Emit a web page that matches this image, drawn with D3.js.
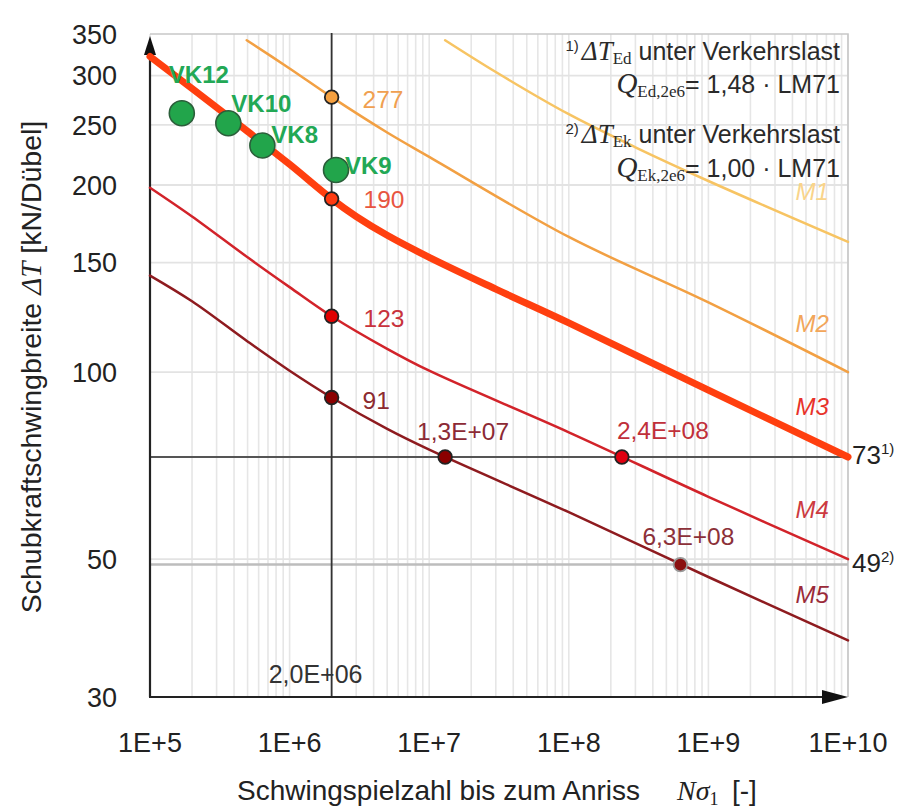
<!DOCTYPE html>
<html><head><meta charset="utf-8">
<script src="https://cdn.jsdelivr.net/npm/d3@7"></script>
<style>body{margin:0;background:#fff}svg{display:block}</style>
</head><body><svg id="c" width="901" height="810"></svg>
<script>
// ---------- data ----------
const xTicks=[1e5,1e6,1e7,1e8,1e9,1e10];
const xTickLabels=["1E+5","1E+6","1E+7","1E+8","1E+9","1E+10"];
const yTicks=[30,50,100,150,200,250,300,350];
const yGrid=[50,100,150,200,250,300];
const curveNames=["M1","M2","M3","M4","M5"];
const curveM1=[[1.3e7,342],[3e7,304],[1e8,260],[3e8,230],[1e9,203],[1e10,162]];
const curveM2=[[4.93e5,342],[1e6,308],[2e6,277],[5e6,243],[1e7,222],[1e8,165],[1e9,129.5],[1e10,100]];
const curveM3=[[1e5,322],[2e5,286],[5e5,244],[1e6,216],[2e6,190],[3e6,178],[5e6,166],[1e7,153],[3e7,136],[1e8,120],[1e9,93.5],[1e10,73]];
const curveM4=[[1e5,198],[2e5,178],[5e5,153],[1e6,137],[2e6,123],[5e6,109],[1e7,100.5],[1e8,80],[1e9,63],[1e10,50]];
const curveM5=[[1e5,143],[2e5,130],[5e5,112],[1e6,100.5],[2e6,91],[5e6,81],[1e7,75],[1e8,59.5],[1e9,46.8],[1e10,37]];
const curveLabelN=[4.2e9,4.2e9,4.2e9,4.2e9,4.2e9];
const curveLabelT=[189,116,85.3,58.2,42.5];
const refN=[2e6,2e6,2e6,2e6,1.3e7,2.4e8,6.3e8];
const refT=[277,190,123,91,73,73,49];
const refLabels=["277","190","123","91","1,3E+07","2,4E+08","6,3E+08"];
const vkNames=["VK12","VK10","VK8","VK9"];
const vkN=[1.69e5,3.64e5,6.38e5,2.15e6];
const vkT=[261,251.5,231.6,211.5];
const refLineN=2e6, refLineNLabel="2,0E+06";
const refLineT=[73,49], refLineLabel=["73","49"], refLineNote=["1)","2)"];

// ---------- layout / style ----------
const curves=[curveM1,curveM2,curveM3,curveM4,curveM5];
const curveColors=["#f7c463","#f2a043","#ff3f0f","#d2232a","#8e1b1f"];
const curveWidths=[2.5,2.5,7,2.5,2.5];
const curveLabelColors=["#f9d48a","#f2a65a","#e8322a","#cc3a40","#9a2a38"];
const refFill=["#f5a040","#ff3a10","#e00000","#8b0000","#8b0000","#e00010","#8b1010"];
const refStroke=["#222","#222","#222","#222","#222","#222","#999"];
const refLabelColors=["#f0a050","#e8553f","#c8323c","#8c2a2f","#8c2a35","#c0303a","#8c3038"];
const refLabelOff=[[31,10.5],[32,9.5],[32,10.6],[31,11],[-28,-17],[-5,-18],[-38,-20]];
const vkLabelOff=[[-13,-30],[3,-11],[9,-2],[9,4]];

const svg=d3.select("#c");
svg.append("rect").attr("width",901).attr("height",810).attr("fill","#fff");
const x=d3.scaleLog().domain([1e5,1e10]).range([150,848]);
const y=d3.scaleLog().domain([30,350]).range([697,34]);
const sans="Liberation Sans, Arial, sans-serif", serif="Liberation Serif, Times New Roman, serif";

// grid
const minor=[];
for(let d=5;d<10;d++)for(let k=1;k<10;k++)minor.push(k*Math.pow(10,d));
minor.push(1e10);
svg.append("g").selectAll("line").data(minor).join("line")
 .attr("x1",d=>x(d)).attr("x2",d=>x(d)).attr("y1",y(350)).attr("y2",y(30))
 .attr("stroke","#e6e6e6").attr("stroke-width",1.6);
svg.append("g").selectAll("line").data(yGrid).join("line")
 .attr("x1",x(1e5)).attr("x2",x(1e10)).attr("y1",d=>y(d)).attr("y2",d=>y(d))
 .attr("stroke","#e3e3e3").attr("stroke-width",1.8);
// frame top/right
svg.append("path").attr("d",`M${x(1e5)},${y(350)}H${x(1e10)}V${y(30)}`)
 .attr("fill","none").attr("stroke","#c8c8c8").attr("stroke-width",1.6);

// reference lines
svg.append("line").attr("x1",x(1e5)).attr("x2",x(1e10)).attr("y1",y(refLineT[1])).attr("y2",y(refLineT[1]))
 .attr("stroke","#bdbdbd").attr("stroke-width",2.5);
svg.append("line").attr("x1",x(1e5)).attr("x2",x(1e10)).attr("y1",y(refLineT[0])).attr("y2",y(refLineT[0]))
 .attr("stroke","#555").attr("stroke-width",1.8);

// 2,0E+06 label
svg.append("text").attr("x",x(refLineN)-16).attr("y",683).attr("text-anchor","middle")
 .attr("font-family",sans).attr("font-size",25).attr("fill","#333").text(refLineNLabel);
svg.append("line").attr("x1",x(refLineN)).attr("x2",x(refLineN)).attr("y1",y(350)-1).attr("y2",y(30))
 .attr("stroke","#333").attr("stroke-width",1.8);

// axes
svg.append("line").attr("x1",x(1e5)).attr("x2",x(1e5)).attr("y1",y(30)).attr("y2",50)
 .attr("stroke","#222").attr("stroke-width",2.2);
svg.append("path").attr("d",`M${x(1e5)},36L${x(1e5)-6},55L${x(1e5)+6},55Z`).attr("fill","#111");
svg.append("line").attr("x1",x(1e5)-1).attr("x2",830).attr("y1",y(30)).attr("y2",y(30))
 .attr("stroke","#222").attr("stroke-width",2.2);
svg.append("path").attr("d",`M${x(1e10)},${y(30)}L${x(1e10)-26},${y(30)-7}L${x(1e10)-26},${y(30)+7}Z`).attr("fill","#111");

// tick labels
svg.append("g").selectAll("text").data(yTicks).join("text")
 .attr("x",117).attr("y",d=>y(d)).attr("dy","0.36em").attr("text-anchor","end")
 .attr("font-family",sans).attr("font-size",27).attr("fill","#222").text(d=>d);
svg.append("g").selectAll("text").data(xTicks).join("text")
 .attr("x",d=>x(d)).attr("y",752).attr("text-anchor","middle")
 .attr("font-family",sans).attr("font-size",27).attr("fill","#222").text((d,i)=>xTickLabels[i]);

// curves
const line=d3.line().x(d=>x(d[0])).y(d=>y(d[1])).curve(d3.curveCatmullRom.alpha(0.5));
curves.forEach((c,i)=>{
  svg.append("path").attr("d",line(c)).attr("fill","none")
   .attr("stroke",curveColors[i]).attr("stroke-width",curveWidths[i]).attr("stroke-linecap","round");
});
// curve labels
svg.append("g").selectAll("text").data(curveNames).join("text")
 .attr("x",(d,i)=>x(curveLabelN[i])).attr("y",(d,i)=>y(curveLabelT[i]))
 .attr("font-family",sans).attr("font-style","italic").attr("font-size",24)
 .attr("fill",(d,i)=>curveLabelColors[i]).text(d=>d);

// VK points
svg.append("g").selectAll("circle").data(vkNames).join("circle")
 .attr("cx",(d,i)=>x(vkN[i])).attr("cy",(d,i)=>y(vkT[i])).attr("r",12.5)
 .attr("fill","#22a54b").attr("stroke","#2b5e3a").attr("stroke-width",1.6);

// reference points
svg.append("g").selectAll("circle").data(refLabels).join("circle")
 .attr("cx",(d,i)=>x(refN[i])).attr("cy",(d,i)=>y(refT[i])).attr("r",6.8)
 .attr("fill",(d,i)=>refFill[i]).attr("stroke",(d,i)=>refStroke[i]).attr("stroke-width",1.8);
svg.append("g").selectAll("text").data(refLabels).join("text")
 .attr("x",(d,i)=>x(refN[i])+refLabelOff[i][0]).attr("y",(d,i)=>y(refT[i])+refLabelOff[i][1])
 .attr("font-family",sans).attr("font-size",24.5).attr("fill",(d,i)=>refLabelColors[i]).text(d=>d);

// VK labels
svg.append("g").selectAll("text").data(vkNames).join("text")
 .attr("x",(d,i)=>x(vkN[i])+vkLabelOff[i][0]).attr("y",(d,i)=>y(vkT[i])+vkLabelOff[i][1])
 .attr("font-family",sans).attr("font-weight","bold").attr("font-size",24)
 .attr("fill","#22a855").text(d=>d);

// right labels 73 / 49
refLineT.forEach((t,i)=>{
  const tx=svg.append("text").attr("x",852).attr("y",y(t)+7)
   .attr("font-family",sans).attr("font-size",26).attr("fill","#222");
  tx.append("tspan").text(refLineLabel[i]);
  tx.append("tspan").attr("font-size",15).attr("dy",-10).text(refLineNote[i]);
});

// legend notes (top right)
function note(yb,sup,sym,sub,rest,symSize){
  const t=svg.append("text").attr("x",840).attr("y",yb).attr("text-anchor","end").attr("fill","#2a2a2a");
  let dy=0;
  if(sup){t.append("tspan").attr("font-family",sans).attr("font-size",15).attr("dy",-9).text(sup+"\u2009");dy=9;}
  t.append("tspan").attr("font-family",serif).attr("font-style","italic").attr("font-size",symSize).attr("dy",dy).text(sym);
  t.append("tspan").attr("font-family",serif).attr("font-size",17).attr("dy",4).text(sub);
  t.append("tspan").attr("font-family",sans).attr("font-size",25).attr("dy",-4).text(rest);
}
note(60,"1)","\u0394T","Ed"," unter Verkehrslast",27);
note(93,null,"Q","Ed,2e6","= 1,48 \u00b7 LM71",29);
note(143,"2)","\u0394T","Ek"," unter Verkehrslast",27);
note(176.5,null,"Q","Ek,2e6","= 1,00 \u00b7 LM71",29);

// axis titles
svg.append("text").attr("x",237).attr("y",800).attr("font-family",sans).attr("font-size",28).attr("fill","#222")
 .text("Schwingspielzahl bis zum Anriss");
const nt=svg.append("text").attr("x",677).attr("y",800).attr("fill","#222");
nt.append("tspan").attr("font-family",serif).attr("font-style","italic").attr("font-size",28).text("N\u03c3");
nt.append("tspan").attr("font-family",serif).attr("font-size",18).attr("dy",5).text("1");
svg.append("text").attr("x",732).attr("y",800).attr("font-family",sans).attr("font-size",28).attr("fill","#222").text("[-]");

const yt=svg.append("text").attr("transform","translate(41,367) rotate(-90)").attr("text-anchor","middle").attr("fill","#222");
yt.append("tspan").attr("font-family",sans).attr("font-size",28.5).text("Schubkraftschwingbreite ");
yt.append("tspan").attr("font-family",serif).attr("font-style","italic").attr("font-size",29).text("\u0394T");
yt.append("tspan").attr("font-family",sans).attr("font-size",28.5).text(" [kN/D\u00fcbel]");
</script></body></html>
